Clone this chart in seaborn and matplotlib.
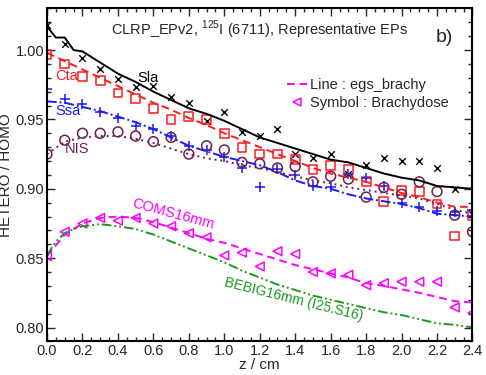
import numpy as np
import seaborn as sns
import matplotlib
matplotlib.use("Agg")
import matplotlib.pyplot as plt
from matplotlib.lines import Line2D
from matplotlib.ticker import MultipleLocator, FormatStrFormatter

# ---- data ----
z_pts = np.round(np.arange(0, 2.41, 0.1), 1)      # symbol positions (Brachydose)
z_line = np.round(np.arange(0, 2.41, 0.1), 1)     # line positions (egs_brachy)

# Sla (black, solid line + x)
sla_z = [0.0, 0.05, 0.1, 0.15, 0.2, 0.25, 0.3] + list(np.round(np.arange(0.4, 2.41, 0.1), 1))
sla_line = [1.017, 1.009, 1.009, 1.000, 0.999, 0.995, 0.991,
            0.983, 0.977, 0.970, 0.964, 0.958, 0.954, 0.949, 0.943, 0.937, 0.933,
            0.929, 0.925, 0.921, 0.919, 0.915, 0.911, 0.908, 0.906, 0.902, 0.901, 0.900]
sla_pts = [1.018, 1.004, 0.994, 0.986, 0.979, 0.973, 0.974, 0.966, 0.962, 0.949,
           0.955, 0.941, 0.938, 0.943, 0.925, 0.922, 0.925, 0.911, 0.917, 0.922,
           0.920, 0.920, 0.915, 0.900, 0.882]

# Cta (red, dashed + squares)
cta_line = [0.998, 0.992, 0.986, 0.980, 0.974, 0.968, 0.962, 0.957, 0.951, 0.946,
            0.940, 0.935, 0.930, 0.925, 0.920, 0.915, 0.911, 0.908, 0.905, 0.901,
            0.897, 0.894, 0.890, 0.887, 0.887]
cta_pts = [0.997, 0.990, 0.981, 0.978, 0.969, 0.965, 0.958, 0.950, 0.952, 0.950,
           0.940, 0.930, 0.925, 0.925, 0.921, 0.914, 0.917, 0.914, 0.905, 0.891,
           0.899, 0.898, 0.889, 0.866, 0.881]

# Ssa (blue, dash-dot + plus)
ssa_line = [0.963, 0.962, 0.959, 0.956, 0.952, 0.948, 0.943, 0.937, 0.931, 0.927,
            0.923, 0.920, 0.917, 0.912, 0.906, 0.902, 0.900, 0.896, 0.893, 0.891,
            0.889, 0.886, 0.882, 0.881, 0.880]
ssa_pts = [0.972, 0.965, 0.961, 0.955, 0.951, 0.945, 0.943, 0.938, 0.931, 0.928,
           0.923, 0.915, 0.901, 0.914, 0.910, 0.902, 0.901, 0.911, 0.908, 0.902,
           0.890, 0.887, 0.884, 0.883, 0.885]

# NIS (purple, dotted + circles)
nis_line = [0.925, 0.934, 0.937, 0.938, 0.938, 0.936, 0.933, 0.929, 0.925, 0.922,
            0.920, 0.917, 0.915, 0.912, 0.909, 0.906, 0.904, 0.901, 0.899, 0.897,
            0.895, 0.893, 0.889, 0.885, 0.882]
nis_pts = [0.925, 0.935, 0.940, 0.940, 0.941, 0.938, 0.934, 0.937, 0.925, 0.931,
           0.928, 0.919, 0.918, 0.915, 0.916, 0.905, 0.909, 0.907, 0.894, 0.901,
           0.896, 0.905, 0.898, 0.881, 0.869]

# COMS16mm (magenta, dashed + left triangles)
coms_line = [0.8515, 0.867, 0.875, 0.879, 0.880, 0.879, 0.876, 0.872, 0.868, 0.864,
             0.861, 0.857, 0.853, 0.849, 0.845, 0.842, 0.839, 0.836, 0.832, 0.830,
             0.8275, 0.825, 0.822, 0.819, 0.818]
coms_pts = [0.8515, 0.869, 0.875, 0.879, 0.877, 0.879, 0.875, 0.873, 0.868, 0.865,
            0.852, 0.854, 0.844, 0.855, 0.853, 0.840, 0.839, 0.838, 0.8305, 0.832,
            0.833, 0.833, 0.833, 0.8145, 0.8106]

# BEBIG16mm (green, dash-dot-dot, line only)
bebig_z = [0.0, 0.05, 0.1, 0.15, 0.2] + list(np.round(np.arange(0.3, 2.41, 0.1), 1))
bebig_line = [0.852, 0.862, 0.868, 0.871, 0.873,
              0.8745, 0.873, 0.871, 0.867, 0.862, 0.857, 0.852, 0.847, 0.841, 0.836,
              0.831, 0.827, 0.823, 0.820, 0.817, 0.814, 0.811, 0.809, 0.806, 0.803,
              0.802, 0.800]

# colours
c_sla = "black"
c_cta = "#ff1a1a"
c_ssa = "#1a1aff"
c_nis = "#6b1f52"
c_coms = "#ff00ff"
c_bebig = "#1a991a"

sns.set_style("ticks")
plt.rcParams['font.family'] = ['Liberation Sans', 'DejaVu Sans']
plt.rcParams['mathtext.fontset'] = 'custom'
plt.rcParams['mathtext.rm'] = 'Liberation Sans'

fig = plt.figure(figsize=(4.86, 3.75), dpi=100)
ax = fig.add_axes([0.0967, 0.0896, 0.8755, 0.888])

lw = 1.4
# lines
sns.lineplot(x=sla_z, y=sla_line, ax=ax, color=c_sla, lw=lw, linestyle='-')
sns.lineplot(x=z_line, y=cta_line, ax=ax, color=c_cta, lw=lw, linestyle=(0, (4, 2.5)))
sns.lineplot(x=z_line, y=ssa_line, ax=ax, color=c_ssa, lw=lw, linestyle=(0, (5, 1.5, 1, 1.5)))
sns.lineplot(x=z_line, y=nis_line, ax=ax, color=c_nis, lw=lw, linestyle=(0, (1, 2)))
sns.lineplot(x=z_line, y=coms_line, ax=ax, color=c_coms, lw=lw, linestyle=(0, (4, 2.5)))
sns.lineplot(x=bebig_z, y=bebig_line, ax=ax, color=c_bebig, lw=lw,
             linestyle=(0, (5, 1.5, 1, 1.5, 1, 1.5)))

# symbols
sns.scatterplot(x=z_pts, y=sla_pts, ax=ax, marker='x', color=c_sla, s=22, linewidth=1.0)
sns.scatterplot(x=z_pts, y=cta_pts, ax=ax, marker='s', s=40, facecolor='none',
                edgecolor=c_cta, linewidth=1.1)
sns.scatterplot(x=z_pts, y=ssa_pts, ax=ax, marker='+', color=c_ssa, s=60, linewidth=1.1)
sns.scatterplot(x=z_pts, y=nis_pts, ax=ax, marker='o', s=50, facecolor='none',
                edgecolor=c_nis, linewidth=1.1)
sns.scatterplot(x=z_pts, y=coms_pts, ax=ax, marker='<', s=40, facecolor='none',
                edgecolor=c_coms, linewidth=1.1)

# axes
ax.set_xlim(0, 2.4)
ax.set_ylim(0.79, 1.03)
ax.xaxis.set_major_locator(MultipleLocator(0.2))
ax.xaxis.set_minor_locator(MultipleLocator(0.05))
ax.yaxis.set_major_locator(MultipleLocator(0.05))
ax.yaxis.set_minor_locator(MultipleLocator(0.01))
ax.xaxis.set_major_formatter(FormatStrFormatter('%.1f'))
ax.yaxis.set_major_formatter(FormatStrFormatter('%.2f'))
ax.tick_params(which='both', direction='in', top=True, right=True, labelsize=10.5,
               width=1.0, pad=2)
ax.tick_params(which='major', length=6)
ax.tick_params(which='minor', length=3)
for sp in ax.spines.values():
    sp.set_linewidth(1.5)
    sp.set_color('black')

ax.set_xlabel("z / cm", fontsize=11, labelpad=0)
ax.set_ylabel("HETERO / HOMO", fontsize=11, labelpad=2)

# annotations
ax.text(0.150, 0.935, r"CLRP_EPv2, $^{125}$I (6711), Representative EPs",
        transform=ax.transAxes, fontsize=10.5, ha='left', va='center')
ax.text(0.933, 0.914, "b)", transform=ax.transAxes, fontsize=14, ha='center', va='center')

ax.text(0.57, 0.980, "Sla", color=c_sla, fontsize=10.5, ha='center', va='center')
ax.text(0.11, 0.981, "Cta", color=c_cta, fontsize=10.5, ha='center', va='center')
ax.text(0.118, 0.956, "Ssa", color=c_ssa, fontsize=10.5, ha='center', va='center')
ax.text(0.17, 0.929, "NIS", color=c_nis, fontsize=10.5, ha='center', va='center')
ax.text(0.71, 0.8816, "COMS16mm", color=c_coms, fontsize=10.5, ha='center', va='center',
        rotation=-15)
ax.text(1.39, 0.8205, "BEBIG16mm (I25.S16)", color=c_bebig, fontsize=10,
        ha='center', va='center', rotation=-14)

handles = [Line2D([], [], color=c_coms, lw=lw, linestyle=(0, (4, 2.5))),
           Line2D([], [], color=c_coms, marker='<', linestyle='none', markersize=6,
                  markerfacecolor='none', markeredgewidth=1.1)]
ax.legend(handles, ["Line : egs_brachy", "Symbol : Brachydose"], loc='upper left',
          bbox_to_anchor=(0.564, 0.791), frameon=False, fontsize=10.5,
          handlelength=1.4, handletextpad=0.15, labelspacing=0.25,
          borderpad=0, borderaxespad=0)

fig.savefig("out.png", dpi=100)
